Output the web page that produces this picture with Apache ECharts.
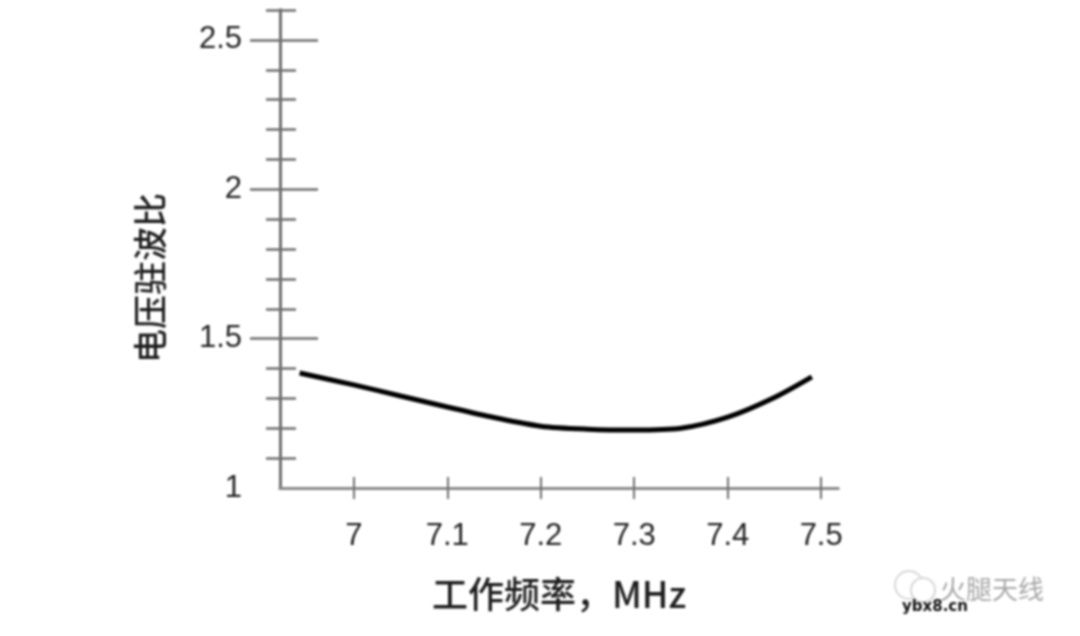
<!DOCTYPE html>
<html><head><meta charset="utf-8">
<style>html,body{margin:0;padding:0;background:#fff}#c{width:1080px;height:636px;filter:blur(0.9px)}</style>
<script src="https://cdn.jsdelivr.net/npm/echarts@6/dist/echarts.min.js"></script></head>
<body><div id="c"></div>
<script>
const frequency=[6.942,7.0,7.05,7.1,7.15,7.2,7.25,7.3,7.35,7.4,7.45,7.49];
const vswr=[1.385,1.345,1.308,1.271,1.236,1.207,1.197,1.194,1.2,1.237,1.303,1.372];
const xTicks=[7,7.1,7.2,7.3,7.4,7.5];
const yMajorTicks=[1.5,2,2.5];
const yMinorTicks=[1.1,1.2,1.3,1.4,1.6,1.7,1.8,1.9,2.1,2.2,2.3,2.4,2.6];
const yLabels=[1,1.5,2,2.5];
const xName='工作频率，MHz',yName='电压驻波比';
const tickColor='#6f6f6f';
const labelFont='"Liberation Sans",Arial,sans-serif';
const chart=echarts.init(document.getElementById('c'),null,{renderer:'canvas'});
const xBase={type:'value',min:6.921,max:7.518,position:'bottom',splitLine:{show:false},
  axisLine:{show:true,onZero:false,lineStyle:{color:'#8a8a8a',width:3}}};
const yBase={type:'value',min:1,max:2.6,position:'left',splitLine:{show:false},
  axisLine:{show:true,onZero:false,lineStyle:{color:tickColor,width:3}},axisLabel:{show:false}};
const yTick=(values,inside,length)=>({...yBase,axisTick:{show:true,inside,length,customValues:values,lineStyle:{color:tickColor,width:2.5}}});
chart.setOption({
  animation:false,backgroundColor:'#fff',
  grid:{left:280,top:10,width:558,height:478},
  xAxis:[
    {...xBase,name:xName,nameLocation:'middle',nameGap:88,
      nameTextStyle:{fontSize:36,color:'#1e1e1e',fontFamily:'"Noto Sans CJK SC"',fontWeight:500},
      axisTick:{show:true,inside:false,length:11,customValues:xTicks,lineStyle:{color:tickColor,width:2}},
      axisLabel:{show:true,margin:33,fontSize:31,color:'#222',fontFamily:labelFont,customValues:xTicks,formatter:v=>String(v)}},
    {...xBase,axisTick:{show:true,inside:true,length:11,customValues:xTicks,lineStyle:{color:tickColor,width:2}},axisLabel:{show:false}}
  ],
  yAxis:[
    {...yTick(yMajorTicks,false,30),name:yName,nameLocation:'middle',nameGap:113,nameRotate:90,
      nameTextStyle:{fontSize:34,color:'#1e1e1e',fontFamily:'"Noto Sans CJK SC"',fontWeight:500,padding:[0,58,0,0]},
      axisLabel:{show:true,margin:38,fontSize:31,color:'#222',fontFamily:labelFont,customValues:yLabels,formatter:v=>String(v)}},
    yTick(yMajorTicks,true,38),
    yTick(yMinorTicks,false,14),
    yTick(yMinorTicks,true,16)
  ],
  series:[{type:'line',xAxisIndex:0,yAxisIndex:0,data:frequency.map((f,i)=>[f,vswr[i]]),
    smooth:0.3,showSymbol:false,lineStyle:{color:'#000',width:5,cap:'butt'}}],
  graphic:[
    {type:'circle',shape:{cx:909,cy:585,r:14},style:{fill:'#fff',stroke:'#d8d8d8',lineWidth:2}},
    {type:'circle',shape:{cx:923,cy:590,r:12},style:{fill:'#fff',stroke:'#d8d8d8',lineWidth:2}},
    {type:'text',style:{x:940,y:576,text:'火腿天线',fontSize:26,fill:'#a8a8a8',fontFamily:'"Noto Sans CJK SC"'}},
    {type:'text',style:{x:902,y:600,text:'ybx8.cn',fontSize:15,fontWeight:'bold',fill:'#111',fontFamily:'"DejaVu Sans"'}}
  ]
});
</script></body></html>
